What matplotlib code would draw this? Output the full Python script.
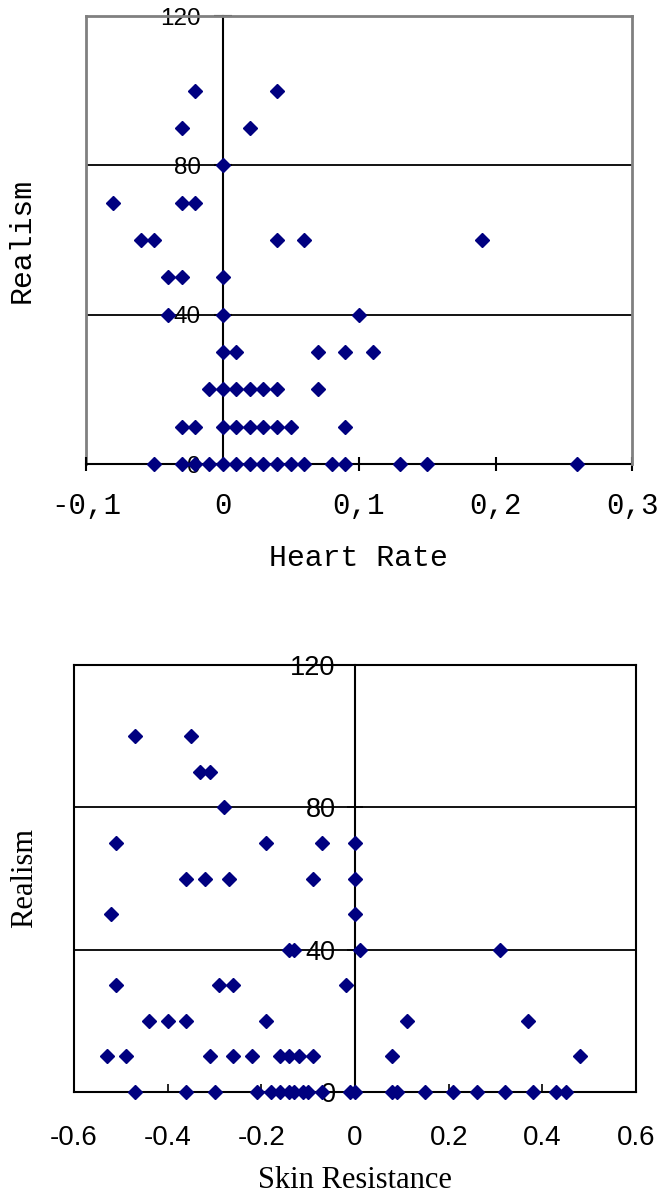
"""Two scatter plots: Realism against Heart Rate and against Skin Resistance."""
import matplotlib
matplotlib.use("Agg")
import matplotlib.pyplot as plt
from matplotlib.ticker import FuncFormatter

# ---- Heart Rate vs Realism (top) ----
hr_x = [-0.02, 0.04,
        -0.03, 0.02,
        0.00,
        -0.08, -0.03, -0.02,
        -0.06, -0.05, 0.04, 0.06, 0.19,
        -0.04, -0.03, 0.00,
        -0.04, 0.00, 0.10,
        0.00, 0.01, 0.07, 0.09, 0.11,
        -0.01, 0.00, 0.01, 0.02, 0.03, 0.04, 0.07,
        -0.03, -0.02, 0.00, 0.01, 0.02, 0.03, 0.04, 0.05, 0.09,
        -0.05, -0.03, -0.02, -0.01, 0.00, 0.01, 0.02, 0.03, 0.04, 0.05,
        0.06, 0.08, 0.09, 0.13, 0.15, 0.26]
hr_y = [100, 100,
        90, 90,
        80,
        70, 70, 70,
        60, 60, 60, 60, 60,
        50, 50, 50,
        40, 40, 40,
        30, 30, 30, 30, 30,
        20, 20, 20, 20, 20, 20, 20,
        10, 10, 10, 10, 10, 10, 10, 10, 10,
        0, 0, 0, 0, 0, 0, 0, 0, 0, 0,
        0, 0, 0, 0, 0, 0]

# ---- Skin Resistance vs Realism (bottom) ----
sr_x = [-0.47, -0.35,
        -0.33, -0.31,
        -0.28,
        -0.51, -0.19, -0.07, 0.00,
        -0.36, -0.32, -0.27, -0.09, 0.00,
        -0.52, 0.00,
        -0.14, -0.13, 0.01, 0.31,
        -0.51, -0.29, -0.26, -0.02,
        -0.44, -0.40, -0.36, -0.19, 0.11, 0.37,
        -0.53, -0.49, -0.31, -0.26, -0.22, -0.16, -0.14, -0.12, -0.09, 0.08, 0.48,
        -0.47, -0.36, -0.30, -0.21, -0.18, -0.16, -0.14, -0.13, -0.11, -0.10,
        -0.07, -0.01, 0.00, 0.08, 0.09, 0.15, 0.21, 0.26, 0.32, 0.38, 0.43, 0.45]
sr_y = [100, 100,
        90, 90,
        80,
        70, 70, 70, 70,
        60, 60, 60, 60, 60,
        50, 50,
        40, 40, 40, 40,
        30, 30, 30, 30,
        20, 20, 20, 20, 20, 20,
        10, 10, 10, 10, 10, 10, 10, 10, 10, 10, 10,
        0, 0, 0, 0, 0, 0, 0, 0, 0, 0,
        0, 0, 0, 0, 0, 0, 0, 0, 0, 0, 0, 0]

hr_xticks = [-0.1, 0.0, 0.1, 0.2, 0.3]
sr_xticks = [-0.6, -0.4, -0.2, 0.0, 0.2, 0.4, 0.6]
yticks = [0, 40, 80, 120]

NAVY = "#000080"
GRAY = "#808080"
W, H = 658, 1194

fig = plt.figure(figsize=(W / 100, H / 100), dpi=100)


def px_axes(left, top, right, bottom):
    return fig.add_axes([left / W, 1 - bottom / H, (right - left) / W, (bottom - top) / H])


# ---------------- top chart ----------------
ax = px_axes(86, 16, 632, 464)
ax.set_xlim(-0.1, 0.3)
ax.set_ylim(0, 120)
for y in (40, 80):
    ax.axhline(y, color="black", lw=1.3, zorder=1)
ax.spines["left"].set_position(("data", 0))
ax.spines["left"].set_color("black")
ax.spines["left"].set_linewidth(1.5)
ax.spines["left"].set_zorder(1)
ax.spines["bottom"].set_color("black")
ax.spines["bottom"].set_linewidth(1.5)
ax.spines["bottom"].set_zorder(1)
for s in ("top", "right"):
    ax.spines[s].set_color(GRAY)
    ax.spines[s].set_linewidth(2)
ax.plot([0, 0], [0, 1], transform=ax.transAxes, color=GRAY, lw=2, clip_on=False, zorder=1)

ax.plot(hr_x, hr_y, ls="none", marker="D", ms=7, color=NAVY, mec=NAVY, clip_on=False, zorder=2)

ax.set_yticks(yticks)
ax.set_xticks(hr_xticks)
ax.xaxis.set_major_formatter(FuncFormatter(lambda v, p: f"{v:g}".replace(".", ",")))
ax.tick_params(axis="y", direction="inout", length=13, width=1.5, pad=9,
               labelsize=17.5, labelfontfamily="Liberation Sans")
ax.tick_params(axis="x", direction="inout", length=10, width=1.5, pad=15.5,
               labelsize=21, labelfontfamily="Liberation Mono")

fig.text(22 / W, 1 - 240 / H, "Realism", rotation=90, ha="center", va="center",
         fontsize=21.5, family="Liberation Mono")
fig.text(358 / W, 1 - 558 / H, "Heart Rate", ha="center", va="center",
         fontsize=21.5, family="Liberation Mono")

# ---------------- bottom chart ----------------
ax2 = px_axes(74, 665, 636, 1092)
ax2.set_xlim(-0.6, 0.6)
ax2.set_ylim(0, 120)
for y in (40, 80):
    ax2.axhline(y, color="black", lw=1.3, zorder=1)
ax2.spines["left"].set_position(("data", 0))
for s in ax2.spines.values():
    s.set_color("black")
    s.set_linewidth(1.5)
    s.set_zorder(1)
ax2.plot([0, 0], [0, 1], transform=ax2.transAxes, color="black", lw=1.5, clip_on=False, zorder=1)

ax2.plot(sr_x, sr_y, ls="none", marker="D", ms=7, color=NAVY, mec=NAVY, clip_on=False, zorder=2)

ax2.set_yticks(yticks)
ax2.set_xticks(sr_xticks)
ax2.xaxis.set_major_formatter(FuncFormatter(lambda v, p: f"{v:g}"))
ax2.tick_params(axis="y", direction="inout", length=12, width=1.2, pad=8,
                labelsize=19.5, labelfontfamily="Liberation Sans")
ax2.tick_params(axis="x", direction="in", length=6, width=1.2, pad=24,
                labelsize=20, labelfontfamily="Liberation Sans")

fig.text(25 / W, 1 - 878 / H, "Realism", rotation=90, ha="center", va="center",
         fontsize=22, family="Liberation Serif")
fig.text(355 / W, 1 - 1180 / H, "Skin Resistance", ha="center", va="center",
         fontsize=22, family="Liberation Serif")

fig.savefig("out.png", dpi=100)
